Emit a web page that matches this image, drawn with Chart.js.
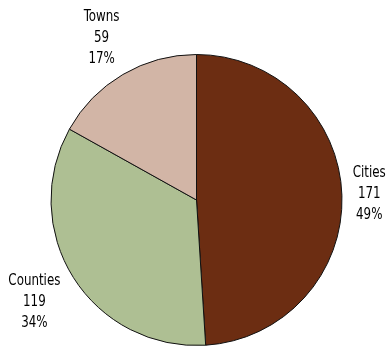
<!DOCTYPE html>
<html>
<head>
<meta charset="utf-8">
<script src="https://cdn.jsdelivr.net/npm/chart.js@4/dist/chart.umd.min.js"></script>
<style>
  html, body { margin: 0; padding: 0; background: #fff; }
  #wrap { position: relative; width: 386px; height: 346px; }
</style>
</head>
<body>
<div id="wrap"><canvas id="pie"></canvas></div>
<script>
// slices in drawing order (clockwise from 12 o'clock)
const categories = ['Cities', 'Counties', 'Towns'];
const counts = [171, 119, 59];
const sliceColors = ['#6c2d12', '#aebf93', '#d2b5a6'];

const LABEL_FONT = '15px "DejaVu Sans Condensed", "DejaVu Sans", sans-serif';
const SQUEEZE = 0.88;   // narrow the label glyphs a bit
const LINE_H = 21;

// name / count / share written outside each slice
const outsideLabels = {
  id: 'outsideLabels',
  afterDraw(chart) {
    const ctx = chart.ctx;
    const meta = chart.getDatasetMeta(0);
    const total = counts.reduce((a, b) => a + b, 0);
    ctx.save();
    ctx.font = LABEL_FONT;
    ctx.fillStyle = '#000';
    ctx.textAlign = 'center';
    ctx.textBaseline = 'middle';
    meta.data.forEach((arc, i) => {
      const p = arc.getProps(['x', 'y', 'startAngle', 'endAngle', 'outerRadius'], true);
      const mid = (p.startAngle + p.endAngle) / 2;
      const dx = Math.cos(mid), dy = Math.sin(mid);
      const lines = [categories[i], String(counts[i]), Math.round(counts[i] / total * 100) + '%'];
      const w = Math.max(...lines.map(t => ctx.measureText(t).width)) * SQUEEZE;
      const h = LINE_H * 2 + 11;
      const extent = Math.abs(dx) * w / 2 + Math.abs(dy) * h / 2;
      const d = p.outerRadius + 10 + extent;
      const cx = p.x + dx * d;
      const cy = p.y + dy * d;
      lines.forEach((t, k) => {
        ctx.save();
        ctx.translate(cx, cy + (k - 1) * LINE_H);
        ctx.scale(SQUEEZE, 1);
        ctx.fillText(t, 0, 0);
        ctx.restore();
      });
    });
    ctx.restore();
  }
};

new Chart(document.getElementById('pie'), {
  type: 'pie',
  data: {
    labels: categories,
    datasets: [{
      data: counts,
      backgroundColor: sliceColors,
      borderColor: '#111',
      borderWidth: 1
    }]
  },
  options: {
    responsive: true,
    maintainAspectRatio: false,
    animation: false,
    layout: { padding: { left: 50, right: 43, top: 54, bottom: 0 } },
    plugins: {
      legend: { display: false },
      tooltip: { enabled: false }
    }
  },
  plugins: [outsideLabels]
});
</script>
</body>
</html>
